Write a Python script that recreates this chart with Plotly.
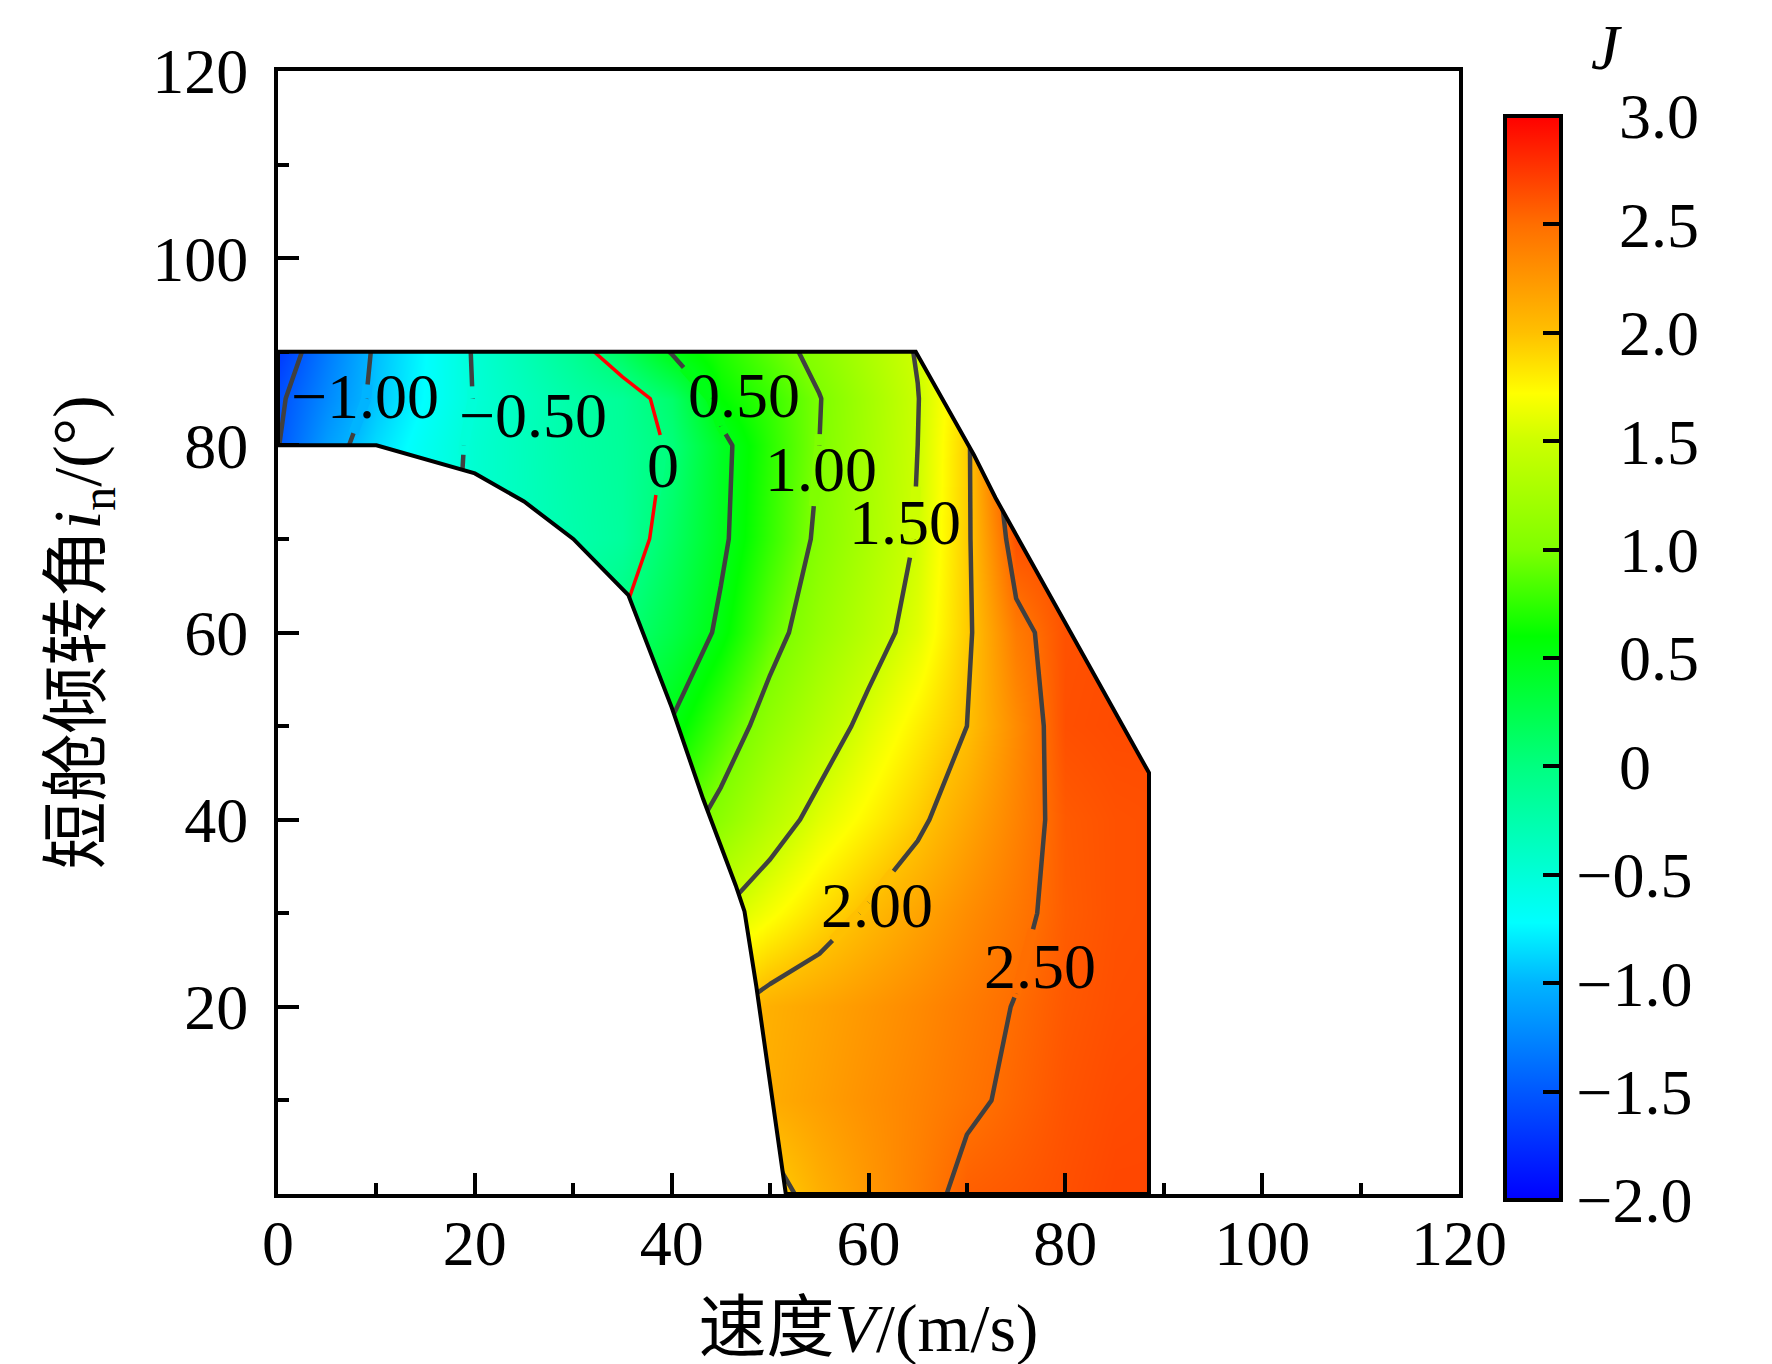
import plotly.graph_objects as go

FONT = "Liberation Serif, Noto Sans CJK SC"

# ---------------- data ----------------
V = [0, 5, 10, 15, 20, 25, 30, 35, 40, 45, 50, 55, 60, 65, 70, 75, 80, 85, 90]
I_N = [0, 10, 20, 30, 40, 50, 60, 70, 80, 85, 90]

J_row_0 = [0.2, 0.4, 0.6, 0.8, 1.0, 1.2, 1.4, 1.55, 1.7, 1.8, 1.9, 2.1, 2.25, 2.4, 2.57, 2.6, 2.64, 2.68, 2.68]
J_row_10 = [0.0, 0.2, 0.4, 0.6, 0.8, 1.0, 1.2, 1.4, 1.6, 1.9, 2.12, 2.2, 2.29, 2.37, 2.46, 2.54, 2.62, 2.66, 2.67]
J_row_20 = [-0.2, 0.0, 0.2, 0.4, 0.6, 0.8, 1.0, 1.2, 1.5, 1.95, 2.1, 2.17, 2.25, 2.33, 2.42, 2.51, 2.6, 2.64, 2.65]
J_row_30 = [-0.5, -0.3, -0.1, 0.1, 0.3, 0.5, 0.7, 0.9, 1.2, 1.5, 1.69, 1.87, 2.03, 2.17, 2.31, 2.44, 2.58, 2.63, 2.64]
J_row_40 = [-0.8, -0.6, -0.4, -0.2, 0.0, 0.2, 0.4, 0.6, 0.85, 1.09, 1.36, 1.59, 1.77, 1.95, 2.16, 2.37, 2.59, 2.63, 2.64]
J_row_50 = [-0.9, -0.75, -0.6, -0.45, -0.3, -0.1, 0.1, 0.3, 0.52, 0.83, 1.12, 1.35, 1.58, 1.79, 2.0, 2.32, 2.64, 2.66, 2.66]
J_row_60 = [-1.1, -0.9, -0.75, -0.6, -0.45, -0.3, -0.15, 0.03, 0.27, 0.55, 0.9, 1.16, 1.38, 1.6, 1.95, 2.42, 2.63, 2.65, 2.65]
J_row_70 = [-1.2, -0.95, -0.75, -0.6, -0.45, -0.35, -0.25, -0.16, 0.13, 0.45, 0.76, 1.05, 1.28, 1.52, 1.95, 2.64, 2.65, 2.66, 2.66]
J_row_80 = [-1.51, -1.12, -0.85, -0.64, -0.46, -0.34, -0.22, -0.14, 0.03, 0.43, 0.73, 1.0, 1.25, 1.5, 1.94, 2.9, 2.7, 2.66, 2.66]
J_row_85 = [-1.55, -1.23, -0.94, -0.71, -0.49, -0.35, -0.22, -0.13, 0.1, 0.6, 0.77, 0.99, 1.24, 1.49, 1.9, 2.6, 2.66, 2.66, 2.66]
J_row_90 = [-1.68, -1.31, -0.96, -0.72, -0.48, -0.3, -0.11, 0.15, 0.52, 0.7, 0.89, 1.08, 1.3, 1.52, 1.95, 2.5, 2.64, 2.66, 2.66]
J = [J_row_0, J_row_10, J_row_20, J_row_30, J_row_40, J_row_50,
     J_row_60, J_row_70, J_row_80, J_row_85, J_row_90]

# boundary of the computed region
boundary_v = [0, 64.8, 70.7, 72.9, 88.5, 88.5, 51.6, 48.6, 47.4, 46.5, 43.2, 40.0, 35.6, 30.0, 25.0, 20.0, 10.0, 0, 0]
boundary_i = [90, 90, 79.0, 74.4, 45.0, 0, 0, 22.2, 30.2, 33.0, 42.2, 52.0, 64.0, 70.0, 74.0, 77.0, 80.0, 80, 90]

# contour labels (text, level, centre) and the span of the line they interrupt
label_text = ["\u22121.00", "\u22120.50", "0", "0.50", "1.00", "1.50", "2.00", "2.50"]
label_level = [-1.0, -0.5, 0.0, 0.5, 1.0, 1.5, 2.0, 2.5]
label_v = [8.8, 25.9, 39.1, 47.3, 55.2, 63.7, 60.9, 77.4]
label_i = [85.2, 83.2, 77.8, 85.3, 77.4, 71.8, 30.8, 24.3]
label_gap_lo = [81.3, 79.0, 74.7, 81.2, 73.5, 68.0, 27.1, 21.0]
label_gap_hi = [86.5, 86.3, 81.1, 88.5, 81.2, 75.6, 34.5, 28.3]

cbar_vals = [-2.0, -1.5, -1.0, -0.5, 0, 0.5, 1.0, 1.5, 2.0, 2.5, 3.0]
cbar_text = ["\u22122.0", "\u22121.5", "\u22121.0", "\u22120.5", "0",
             "0.5", "1.0", "1.5", "2.0", "2.5", "3.0"]

x_ticks = [0, 20, 40, 60, 80, 100, 120]
y_ticks = [20, 40, 60, 80, 100, 120]
AX_MAX = 120
Z_MIN, Z_MAX = -2.0, 3.0

colorscale = [
    [0.0, "#0000ff"], [0.1, "#0058ff"], [0.2, "#00b4ff"], [0.256, "#00ffff"],
    [0.3, "#00ffd8"], [0.4, "#00ff80"], [0.52, "#00ff00"], [0.6, "#7fff00"],
    [0.7, "#ccff00"], [0.744, "#ffff00"], [0.8, "#ffc000"], [0.9, "#ff6e00"],
    [1.0, "#ff0000"],
]

# layout geometry (pixels)
W, H = 1772, 1364
ML, MR, MT, MB = 270, 321, 63, 178
PW, PH = W - ML - MR, H - MT - MB
FS = 64
FS_TITLE = 68


def level_color(z):
    t = (z - Z_MIN) / (Z_MAX - Z_MIN)
    for (p0, c0), (p1, c1) in zip(colorscale[:-1], colorscale[1:]):
        if p0 <= t <= p1:
            f = (t - p0) / (p1 - p0) if p1 > p0 else 0
            a = [int(c0[i:i + 2], 16) for i in (1, 3, 5)]
            b = [int(c1[i:i + 2], 16) for i in (1, 3, 5)]
            return "rgb(%d,%d,%d)" % tuple(round(a[k] + (b[k] - a[k]) * f) for k in range(3))
    return colorscale[-1][1]


def level_segments(level, xs, ys, Z):
    """straight contour pieces of one level, cell by cell (as plotly draws them)"""
    lv = level + 1e-9
    segs = []
    for j in range(len(ys) - 1):
        for i in range(len(xs) - 1):
            c = [(xs[i], ys[j], Z[j][i]), (xs[i + 1], ys[j], Z[j][i + 1]),
                 (xs[i + 1], ys[j + 1], Z[j + 1][i + 1]), (xs[i], ys[j + 1], Z[j + 1][i])]
            pts = []
            for k in range(4):
                xa, ya, za = c[k]
                xb, yb, zb = c[(k + 1) % 4]
                if (za - lv) * (zb - lv) < 0:
                    t = (lv - za) / (zb - za)
                    pts.append((xa + t * (xb - xa), ya + t * (yb - ya)))
            if len(pts) == 2:
                segs.append(pts)
            elif len(pts) == 4:
                segs.append(pts[0:2])
                segs.append(pts[2:4])
    return segs


def clip(seg, x0, x1, y0, y1):
    (ax, ay), (bx, by) = seg
    dx, dy = bx - ax, by - ay
    t0, t1 = 0.0, 1.0
    for p, q in ((-dx, ax - x0), (dx, x1 - ax), (-dy, ay - y0), (dy, y1 - ay)):
        if p == 0:
            if q < 0:
                return None
        else:
            r = q / p
            if p < 0:
                t0 = max(t0, r)
            else:
                t1 = min(t1, r)
    if t0 >= t1:
        return None
    return (ax + t0 * dx, ay + t0 * dy, ax + t1 * dx, ay + t1 * dy)


# colourbar labels: non-negative values get a leading blank as wide as the minus sign
cbar_labels = [s if s.startswith("\u2212") else ("\u200a\u2002\u200a" + s) for s in cbar_text]

fig = go.Figure()

# colour fill
fig.add_trace(go.Contour(
    x=V, y=I_N, z=J, zmin=Z_MIN, zmax=Z_MAX, zauto=False,
    colorscale=colorscale,
    contours=dict(coloring="heatmap", showlines=False, start=-2.0, end=3.0, size=0.5),
    line=dict(width=0),
    colorbar=dict(
        thickness=56, len=1084, lenmode="pixels",
        x=(1497 - ML) / PW, xanchor="left", xpad=0,
        y=(H - MB - 1192) / PH, yanchor="bottom", ypad=0,
        tickmode="array", tickvals=cbar_vals, ticktext=cbar_labels,
        ticks="inside", ticklen=20, tickwidth=3.5, tickcolor="black",
        tickfont=dict(family=FONT, size=FS, color="black"),
        outlinecolor="black", outlinewidth=4,
    ),
    hoverinfo="skip",
))

# contour lines
line_color = "#404040"
fig.add_trace(go.Contour(
    x=V, y=I_N, z=J, showscale=False, hoverinfo="skip",
    contours=dict(coloring="none", start=-1.5, end=-0.5, size=0.5, showlabels=False),
    line=dict(color=line_color, width=4.5, smoothing=0),
))
fig.add_trace(go.Contour(
    x=V, y=I_N, z=J, showscale=False, hoverinfo="skip",
    contours=dict(coloring="none", start=0.0, end=0.1, size=0.5, showlabels=False),
    line=dict(color="#ff0000", width=3.5, smoothing=0),
))
fig.add_trace(go.Contour(
    x=V, y=I_N, z=J, showscale=False, hoverinfo="skip",
    contours=dict(coloring="none", start=0.5, end=2.5, size=0.5, showlabels=False),
    line=dict(color=line_color, width=4.5, smoothing=0),
))

# white masks outside the computed region
mask_ll_v = boundary_v[6:18] + [0]
mask_ll_i = boundary_i[6:18] + [0]
fig.add_trace(go.Scatter(x=mask_ll_v, y=mask_ll_i, mode="lines", fill="toself",
                         fillcolor="white", line=dict(width=0, color="white"),
                         hoverinfo="skip"))
mask_ur_v = boundary_v[1:6] + [AX_MAX, AX_MAX, boundary_v[0]]
mask_ur_i = boundary_i[1:6] + [0, AX_MAX, AX_MAX]
fig.add_trace(go.Scatter(x=mask_ur_v, y=mask_ur_i, mode="lines", fill="toself",
                         fillcolor="white", line=dict(width=0, color="white"),
                         hoverinfo="skip"))

# outline of the region
fig.add_trace(go.Scatter(x=boundary_v, y=boundary_i, mode="lines",
                         line=dict(color="black", width=4), hoverinfo="skip"))

# contour labels: break the line under each label, then write the label
px_per_v = PW / AX_MAX
for t, lv, xv, yv, glo, ghi in zip(label_text, label_level, label_v, label_i,
                                    label_gap_lo, label_gap_hi):
    n_dig = sum(ch.isdigit() for ch in t)
    w_px = FS * (0.5 * n_dig + 0.25 * t.count(".") + 0.564 * t.count("\u2212"))
    half = w_px / 2 / px_per_v + 0.4
    for seg in level_segments(lv, V, I_N, J):
        c = clip(seg, xv - half, xv + half, glo, ghi)
        if c:
            fig.add_shape(type="line", xref="x", yref="y", x0=c[0], y0=c[1], x1=c[2], y1=c[3],
                          line=dict(color=level_color(lv), width=10), layer="above")
    fig.add_annotation(x=xv, y=yv, xref="x", yref="y", text=t, showarrow=False,
                       xanchor="center", yanchor="middle",
                       font=dict(family=FONT, size=FS, color="black"))

# colourbar title
fig.add_annotation(x=(1598 - ML) / PW, y=(H - MB - 2) / PH, xref="paper", yref="paper",
                   text="<i>J</i>", showarrow=False, xanchor="center", yanchor="top",
                   font=dict(family=FONT, size=FS, color="black"))

axis_common = dict(
    range=[0, AX_MAX], showgrid=False, zeroline=False,
    showline=True, linecolor="black", linewidth=4, mirror=True,
    ticks="inside", ticklen=21, tickwidth=4, tickcolor="black",
    minor=dict(ticks="inside", ticklen=11, tickwidth=4, tickcolor="black", dtick=10, tick0=0),
    tickfont=dict(family=FONT, size=FS, color="black"),
)
fig.update_xaxes(**axis_common, tickmode="array", tickvals=x_ticks, ticklabelstandoff=-10,
                 title=dict(text="速度<i>V</i>/(m/s)", font=dict(family=FONT, size=FS_TITLE),
                            standoff=27))
fig.update_yaxes(**axis_common, tickmode="array", tickvals=y_ticks, ticklabelstandoff=13,
                 title=dict(text="短舱倾转角<i>i</i><sub>n</sub>/(°)",
                            font=dict(family=FONT, size=FS_TITLE), standoff=30))

fig.update_layout(
    width=W, height=H,
    margin=dict(l=ML, r=MR, t=MT, b=MB),
    plot_bgcolor="white", paper_bgcolor="white",
    font=dict(family=FONT, size=FS, color="black"),
    showlegend=False,
)

fig.write_html("out.html")
